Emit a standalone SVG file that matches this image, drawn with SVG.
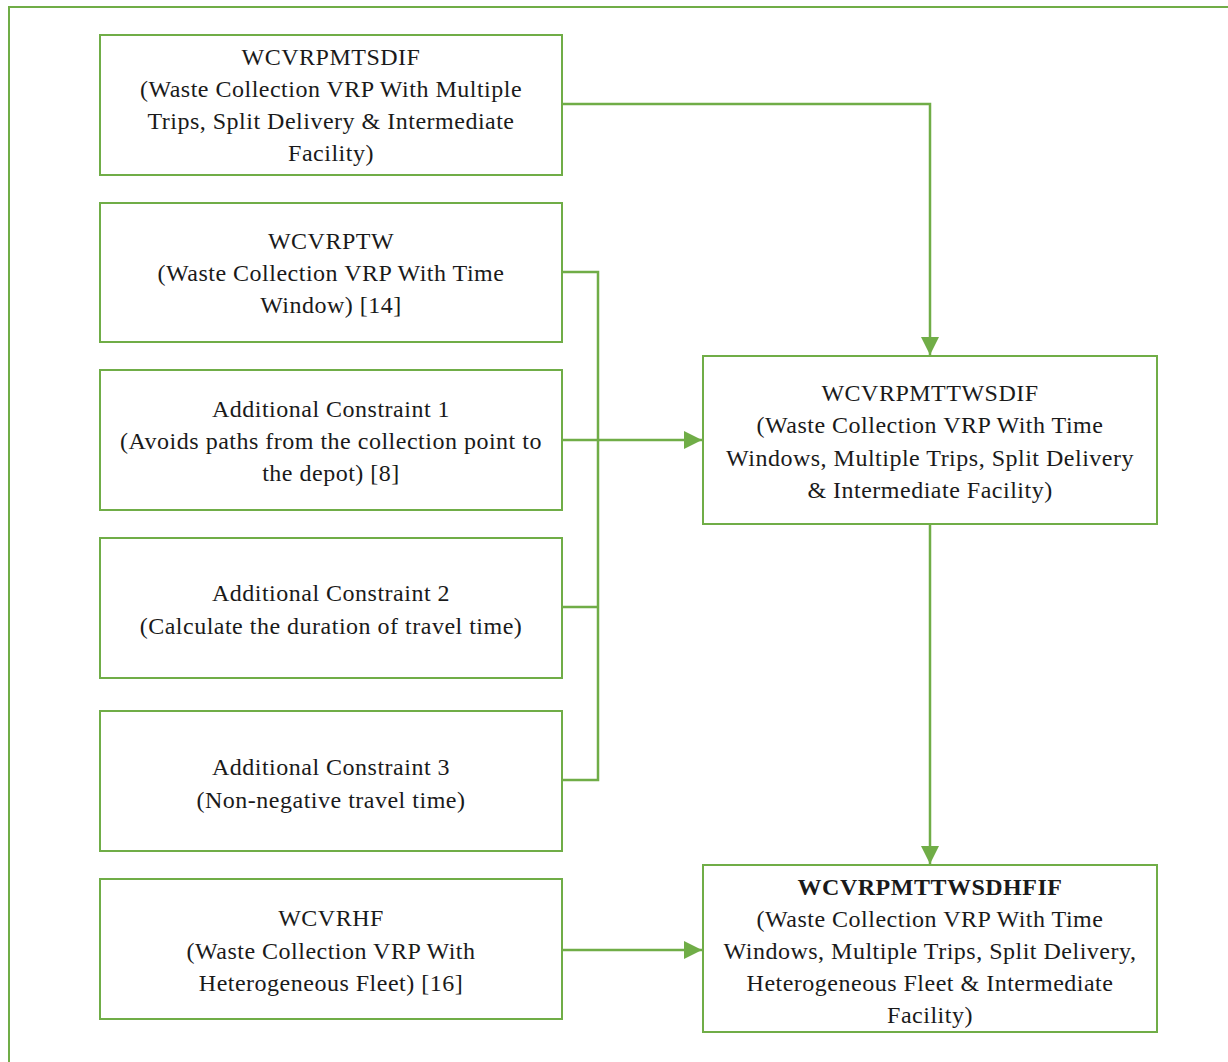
<svg xmlns="http://www.w3.org/2000/svg" width="1228" height="1062" viewBox="0 0 1228 1062">
<style>
.frame{fill:none;stroke:#70AD47;stroke-width:2}
.box{fill:#fff;stroke:#70AD47;stroke-width:2}
.conn{fill:none;stroke:#70AD47;stroke-width:2.5}
text{font-family:"Liberation Serif","Times New Roman",serif;font-size:24px;letter-spacing:0.5px;fill:#1a1a1a;text-anchor:middle}
.b{font-weight:bold}
</style>
<defs>
<marker id="arrow" viewBox="0 0 18 18" refX="18" refY="9" markerWidth="18" markerHeight="18" markerUnits="userSpaceOnUse" orient="auto">
<path d="M0,0 L18,9 L0,18 Z" fill="#70AD47"/>
</marker>
</defs>
<rect class="frame" x="9" y="7" width="1230" height="1070"/>
<g id="connectors">
<path class="conn" d="M562,104 H930 V355" marker-end="url(#arrow)"/>
<path class="conn" d="M562,272 H598 V780 H562"/>
<path class="conn" d="M562,607 H598"/>
<path class="conn" d="M562,440 H702" marker-end="url(#arrow)"/>
<path class="conn" d="M930,524 V864" marker-end="url(#arrow)"/>
<path class="conn" d="M562,950 H702" marker-end="url(#arrow)"/>
</g>
<g id="n1">
<rect class="box" x="100" y="35" width="462" height="140"/>
<text x="331" y="65">WCVRPMTSDIF</text>
<text x="331" y="97">(Waste Collection VRP With Multiple</text>
<text x="331" y="129">Trips, Split Delivery &amp; Intermediate</text>
<text x="331" y="161">Facility)</text>
</g>
<g id="n2">
<rect class="box" x="100" y="203" width="462" height="139"/>
<text x="331" y="249">WCVRPTW</text>
<text x="331" y="281">(Waste Collection VRP With Time</text>
<text x="331" y="313">Window) [14]</text>
</g>
<g id="n3">
<rect class="box" x="100" y="370" width="462" height="140"/>
<text x="331" y="417">Additional Constraint 1</text>
<text x="331" y="449">(Avoids paths from the collection point to</text>
<text x="331" y="481">the depot) [8]</text>
</g>
<g id="n4">
<rect class="box" x="100" y="538" width="462" height="140"/>
<text x="331" y="601">Additional Constraint 2</text>
<text x="331" y="634">(Calculate the duration of travel time)</text>
</g>
<g id="n5">
<rect class="box" x="100" y="711" width="462" height="140"/>
<text x="331" y="775">Additional Constraint 3</text>
<text x="331" y="808">(Non-negative travel time)</text>
</g>
<g id="n6">
<rect class="box" x="100" y="879" width="462" height="140"/>
<text x="331" y="926">WCVRHF</text>
<text x="331" y="959">(Waste Collection VRP With</text>
<text x="331" y="991">Heterogeneous Fleet) [16]</text>
</g>
<g id="nA">
<rect class="box" x="703" y="356" width="454" height="168"/>
<text x="930" y="401">WCVRPMTTWSDIF</text>
<text x="930" y="433">(Waste Collection VRP With Time</text>
<text x="930" y="466">Windows, Multiple Trips, Split Delivery</text>
<text x="930" y="498">&amp; Intermediate Facility)</text>
</g>
<g id="nB">
<rect class="box" x="703" y="865" width="454" height="167"/>
<text class="b" x="930" y="895">WCVRPMTTWSDHFIF</text>
<text x="930" y="927">(Waste Collection VRP With Time</text>
<text x="930" y="959">Windows, Multiple Trips, Split Delivery,</text>
<text x="930" y="991">Heterogeneous Fleet &amp; Intermediate</text>
<text x="930" y="1023">Facility)</text>
</g>
</svg>
